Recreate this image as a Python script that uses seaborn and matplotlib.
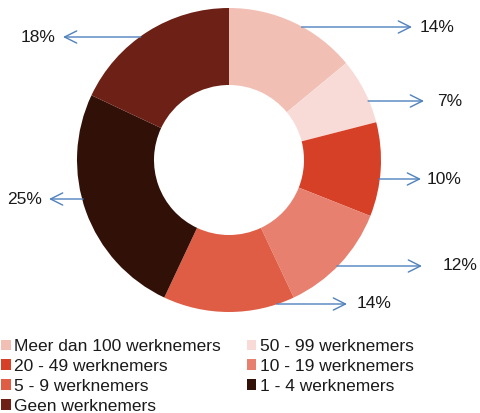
import matplotlib
matplotlib.use("Agg")
import matplotlib.pyplot as plt
import seaborn as sns
import numpy as np

# ---- data ----
categories = ["Meer dan 100 werknemers", "50 - 99 werknemers", "20 - 49 werknemers",
              "10 - 19 werknemers", "5 - 9 werknemers", "1 - 4 werknemers",
              "Geen werknemers"]
values = [14, 7, 10, 12, 14, 25, 18]
value_labels = ["14%", "7%", "10%", "12%", "14%", "25%", "18%"]
colors = ["#F2BFB5", "#F8DBD7", "#D54027", "#E88070", "#E05D45", "#311008", "#6D2015"]

sns.set_theme(style="white")
plt.rcParams['font.family'] = ['Liberation Sans', 'DejaVu Sans']

W, H = 480, 413
fig = plt.figure(figsize=(W / 100, H / 100), dpi=100)
ax = fig.add_axes([0, 0, 1, 1])

cx, cy, R, width = 229, H - 160, 152, 77
wedges, _ = ax.pie(values, colors=colors, startangle=90, counterclock=False,
                   center=(cx, cy), radius=R,
                   wedgeprops=dict(width=width, linewidth=0))
ax.set_xlim(0, W)
ax.set_ylim(0, H)
ax.set_aspect('equal')
ax.axis('off')

# label layout: (arrow y from top, arrow end x, text x, side)
layout = [
    (27, 412, 420, 1),
    (101, 424, 437, 1),
    (179, 421, 427, 1),
    (266, 422, 443, 1),
    (304, 347, 357, 1),
    (199, 49, 42, -1),
    (37, 63, 55, -1),
]
arrow_color = "#4F81BD"
for lab, (yp, xend, xt, side) in zip(value_labels, layout):
    y = H - yp
    dy = y - cy
    xs = cx + side * np.sqrt(max(R * R - dy * dy, 0)) - side * 1
    ax.annotate("", xy=(xend, y), xytext=(xs, y),
                arrowprops=dict(arrowstyle="->,head_length=0.7,head_width=0.35",
                                color=arrow_color, lw=1, shrinkA=0, shrinkB=0,
                                mutation_scale=12.5))
    ax.text(xt, y, lab, ha="left" if side > 0 else "right", va="center",
            fontsize=12.5, color="#1a1a1a")

# legend (column-major ordering to reproduce row-wise layout)
order = [0, 2, 4, 6, 1, 3, 5]
leg = ax.legend([wedges[i] for i in order], [categories[i] for i in order],
                ncol=2, loc="upper left", bbox_to_anchor=(1, H - 339),
                bbox_transform=ax.transData, frameon=False, fontsize=12.5,
                handlelength=0.55, handleheight=0.55, handletextpad=0.2,
                columnspacing=1.5, labelspacing=0.28, borderpad=0,
                borderaxespad=0)
for t in leg.get_texts():
    t.set_color("#1a1a1a")

fig.savefig("out.png", dpi=100)
